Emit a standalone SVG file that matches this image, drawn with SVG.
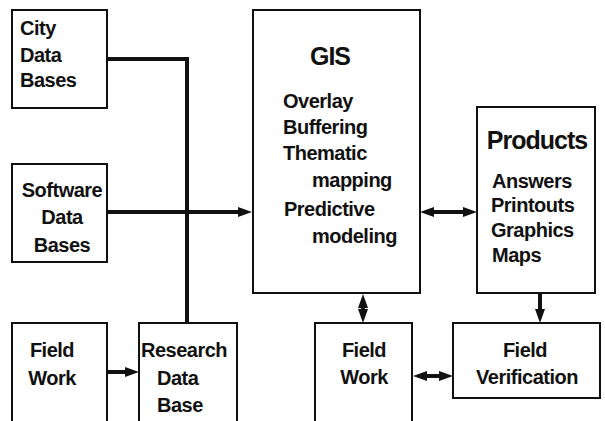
<svg xmlns="http://www.w3.org/2000/svg" width="605" height="421" viewBox="0 0 605 421">
<style>
.box{fill:#fff;stroke:#111;stroke-width:2}
.t{font-family:"Liberation Sans",Arial,sans-serif;font-weight:bold;font-size:20px;fill:#111;letter-spacing:-0.5px}
.h{font-family:"Liberation Sans",Arial,sans-serif;font-weight:bold;font-size:25px;fill:#111;letter-spacing:-1px}
.c{fill:none;stroke:#111;stroke-width:4}
</style>
<defs>
<marker id="ah" viewBox="0 0 14 10" markerWidth="14" markerHeight="10" refX="2" refY="5" orient="auto-start-reverse" markerUnits="userSpaceOnUse">
<path d="M0,0 L14,5 L0,10 z" fill="#111"/>
</marker>
</defs>
<rect width="605" height="421" fill="#fff"/>
<g id="connectors">
<polyline class="c" points="107,59 187,59 187,323"/>
<line class="c" x1="107" y1="212" x2="240" y2="212" stroke-width="5" marker-end="url(#ah)"/>
<line class="c" x1="107" y1="372" x2="127" y2="372" marker-end="url(#ah)"/>
<line class="c" x1="432" y1="212" x2="465" y2="212" marker-start="url(#ah)" marker-end="url(#ah)"/>
<line class="c" x1="363" y1="306" x2="363" y2="311" marker-start="url(#ah)" marker-end="url(#ah)"/>
<line class="c" x1="540" y1="294" x2="540" y2="311" stroke-width="3" marker-end="url(#ah)"/>
<line class="c" x1="425" y1="376" x2="441" y2="376" marker-start="url(#ah)" marker-end="url(#ah)"/>
</g>
<g id="city">
<rect class="box" x="12" y="10" width="95" height="98"/>
<text class="t" x="20" y="35">City</text>
<text class="t" x="20" y="62">Data</text>
<text class="t" x="20" y="87">Bases</text>
</g>
<g id="software">
<rect class="box" x="12" y="164" width="95" height="98"/>
<text class="t" x="62" y="197" text-anchor="middle">Software</text>
<text class="t" x="62" y="224" text-anchor="middle">Data</text>
<text class="t" x="62" y="252" text-anchor="middle">Bases</text>
</g>
<g id="fieldwork1">
<rect class="box" x="12" y="323" width="95" height="110"/>
<text class="t" x="52" y="357" text-anchor="middle">Field</text>
<text class="t" x="52" y="385" text-anchor="middle">Work</text>
</g>
<g id="research">
<rect class="box" x="139" y="323" width="98" height="110"/>
<text class="t" x="141" y="357">Research</text>
<text class="t" x="157" y="385">Data</text>
<text class="t" x="157" y="412">Base</text>
</g>
<g id="gis">
<rect class="box" x="253" y="10" width="167" height="283"/>
<text class="h" x="330" y="65" text-anchor="middle">GIS</text>
<text class="t" x="283" y="108">Overlay</text>
<text class="t" x="283" y="134">Buffering</text>
<text class="t" x="283" y="160">Thematic</text>
<text class="t" x="312" y="187">mapping</text>
<text class="t" x="284" y="216">Predictive</text>
<text class="t" x="312" y="243">modeling</text>
</g>
<g id="products">
<rect class="box" x="477" y="107" width="118" height="186"/>
<text class="h" x="537" y="149" text-anchor="middle">Products</text>
<text class="t" x="492" y="188">Answers</text>
<text class="t" x="491" y="212">Printouts</text>
<text class="t" x="491" y="237">Graphics</text>
<text class="t" x="492" y="262">Maps</text>
</g>
<g id="fieldwork2">
<rect class="box" x="315" y="323" width="97" height="110"/>
<text class="t" x="364" y="357" text-anchor="middle">Field</text>
<text class="t" x="364" y="384" text-anchor="middle">Work</text>
</g>
<g id="verification">
<rect class="box" x="453" y="323" width="147" height="75"/>
<text class="t" x="525" y="357" text-anchor="middle">Field</text>
<text class="t" x="527" y="384" text-anchor="middle">Verification</text>
</g>
</svg>
